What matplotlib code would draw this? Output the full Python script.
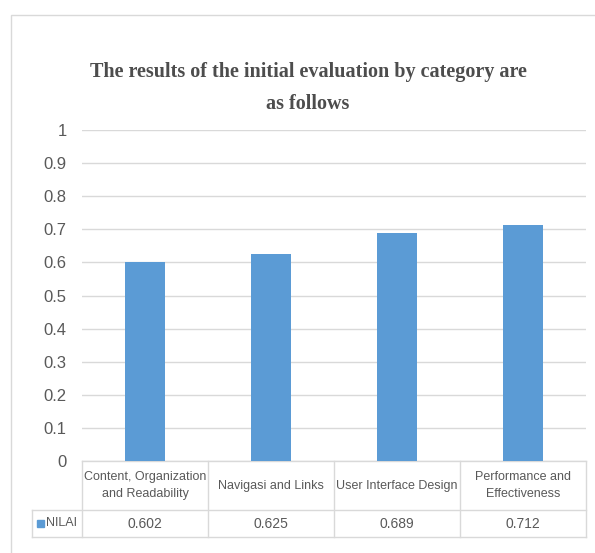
import matplotlib.pyplot as plt
from matplotlib.patches import Rectangle
from matplotlib.transforms import blended_transform_factory

# data
categories = ["Content, Organization\nand Readability", "Navigasi and Links",
              "User Interface Design", "Performance and\nEffectiveness"]
nilai = [0.602, 0.625, 0.689, 0.712]
nilai_labels = ["0.602", "0.625", "0.689", "0.712"]
series_name = "NILAI"
yticks = [0, 0.1, 0.2, 0.3, 0.4, 0.5, 0.6, 0.7, 0.8, 0.9, 1]
ytick_labels = ["0", "0.1", "0.2", "0.3", "0.4", "0.5", "0.6", "0.7", "0.8", "0.9", "1"]

W, H = 595, 553
bar_color = "#5B9BD5"
grid_color = "#D9D9D9"
text_color = "#595959"
sans = "Liberation Sans"

fig = plt.figure(figsize=(W / 100, H / 100), dpi=100)

# chart frame
fig.patches.append(Rectangle((11 / W, -0.05), 1.0, (H - 15) / H + 0.05,
                             transform=fig.transFigure, fill=False,
                             edgecolor="#D9D9D9", linewidth=1))

# plot area in pixels: left 82, right 586, top 130, bottom 461
ax = fig.add_axes([82 / W, (H - 461) / H, (586 - 82) / W, (461 - 130) / H])
x = list(range(len(categories)))
ax.bar(x, nilai, width=0.31, color=bar_color, zorder=3)
ax.set_xlim(-0.5, len(categories) - 0.5)
ax.set_ylim(0, 1)
ax.set_yticks(yticks)
ax.set_yticklabels(ytick_labels, family=sans, fontsize=12, color=text_color)
ax.tick_params(axis="y", length=0, pad=11)
ax.set_xticks([])
ax.grid(axis="y", color=grid_color, linewidth=1, zorder=0)
for s in ax.spines.values():
    s.set_visible(False)

# data table below the axis
trans = blended_transform_factory(ax.transData, ax.transAxes)
ph = 461 - 130
h1 = -(510 - 461) / ph
h2 = -(537 - 461) / ph
left_px = 32
x_left = -0.5 - (82 - left_px) / ((586 - 82) / len(categories))
line_kw = dict(color=grid_color, linewidth=1, transform=trans, clip_on=False)
ax.plot([-0.5, 3.5], [0, 0], **line_kw)
ax.plot([x_left, 3.5], [h1, h1], **line_kw)
ax.plot([x_left, 3.5], [h2, h2], **line_kw)
for xv in [-0.5, 0.5, 1.5, 2.5, 3.5]:
    ax.plot([xv, xv], [0, h2], **line_kw)
ax.plot([x_left, x_left], [h1, h2], **line_kw)

for i, cat in enumerate(categories):
    ax.text(i, h1 / 2, cat, transform=trans, ha="center", va="center",
            family=sans, fontsize=9, color=text_color, linespacing=1.5)
    ax.text(i, (h1 + h2) / 2, nilai_labels[i], transform=trans, ha="center",
            va="center", family=sans, fontsize=10, color=text_color)

# legend key in the table
ax.add_patch(Rectangle((x_left + 0.04, (h1 + h2) / 2 - 0.011), 0.056, 0.022,
                       transform=trans, color=bar_color, clip_on=False))
ax.text(x_left + 0.11, (h1 + h2) / 2, series_name, transform=trans,
        ha="left", va="center", family=sans, fontsize=9, color=text_color)

# title
title_font = dict(family="Liberation Serif", weight="bold",
                  fontsize=14.5, color="#4D4D4D", ha="center", va="baseline")
fig.text(308 / W, 1 - 77 / H, "The results of the initial evaluation by category are", **title_font)
fig.text(308 / W, 1 - 109 / H, "as follows", **title_font)

fig.savefig("out.png", dpi=100)
